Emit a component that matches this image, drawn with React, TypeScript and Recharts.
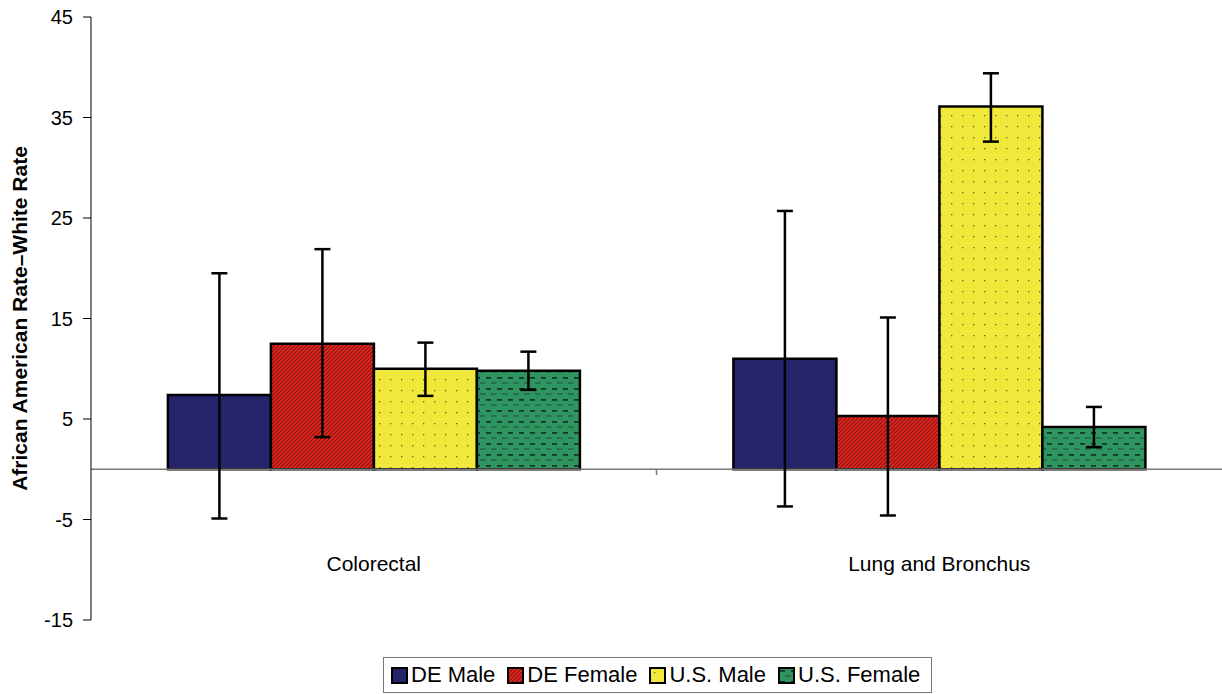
import React from "react";
import {
  BarChart,
  Bar,
  XAxis,
  YAxis,
  ErrorBar,
  ReferenceLine,
  Legend,
} from "recharts";

const categories = ["Colorectal", "Lung and Bronchus"];

const deMale = [7.4, 11.0];
const deFemale = [12.5, 5.3];
const usMale = [10.0, 36.1];
const usFemale = [9.8, 4.2];

// confidence limits [low, high]
const deMaleCI = [[-4.9, 19.5], [-3.7, 25.7]];
const deFemaleCI = [[3.2, 21.9], [-4.6, 15.1]];
const usMaleCI = [[7.3, 12.6], [32.6, 39.4]];
const usFemaleCI = [[7.9, 11.7], [2.2, 6.2]];

const yTicks = [-15, -5, 5, 15, 25, 35, 45];

const series = [
  { key: "deMale", name: "DE Male", values: deMale, ci: deMaleCI, fill: "#25246B" },
  { key: "deFemale", name: "DE Female", values: deFemale, ci: deFemaleCI, fill: "url(#hatchRed)" },
  { key: "usMale", name: "U.S. Male", values: usMale, ci: usMaleCI, fill: "url(#dotsYellow)" },
  { key: "usFemale", name: "U.S. Female", values: usFemale, ci: usFemaleCI, fill: "url(#dashGreen)" },
];

const data = categories.map((name, i) => {
  const row: any = { name };
  series.forEach((s) => {
    const v = s.values[i];
    row[s.key] = v;
    row[s.key + "Err"] = [v - s.ci[i][0], s.ci[i][1] - v];
  });
  return row;
});

const FONT = "'Liberation Sans', Arial, sans-serif";

const Patterns = () => (
  <defs>
    <pattern id="hatchRed" width="4" height="4" patternUnits="userSpaceOnUse">
      <rect width="4" height="4" fill="#E8261F" />
      <path d="M-1,1 l2,-2 M0,4 l4,-4 M3,5 l2,-2" stroke="#7A1410" strokeWidth="1.1" />
    </pattern>
    <pattern id="dotsYellow" width="11" height="11" patternUnits="userSpaceOnUse">
      <rect width="11" height="11" fill="#F0E83A" />
      <rect x="5" y="5" width="1.3" height="1.3" fill="#6A6530" />
    </pattern>
    <pattern id="dashGreen" width="11" height="11" patternUnits="userSpaceOnUse">
      <rect width="11" height="11" fill="#2E9460" />
      <rect x="2" y="3" width="5" height="1.8" fill="#123A22" />
      <rect x="7" y="8.5" width="4" height="1" fill="#1E4E33" />
      <rect x="0" y="8.5" width="1.5" height="1" fill="#1E4E33" />
    </pattern>
  </defs>
);

const CategoryTick = (props: any) => {
  const { x, y, payload, index } = props;
  const half = payload.offset || 0;
  return (
    <g>
      <text
        x={x}
        y={y - 57}
        textAnchor="middle"
        fontSize={21}
        fontFamily={FONT}
        fill="#000"
      >
        {payload.value}
      </text>
      {index === 0 && (
        <line x1={x + half} x2={x + half} y1={469} y2={475} stroke="#777" strokeWidth={1.5} />
      )}
    </g>
  );
};

const LegendBox = () => (
  <div
    style={{
      boxSizing: "border-box",
      height: 36,
      width: 549,
      border: "1px solid #777",
      display: "flex",
      alignItems: "center",
      paddingLeft: 7,
      fontFamily: FONT,
      fontSize: 22,
      color: "#000",
      whiteSpace: "nowrap",
    }}
  >
    {series.map((s) => (
      <div key={s.key} style={{ display: "flex", alignItems: "center", marginRight: 12 }}>
        <svg width={17} height={17} style={{ marginRight: 3 }}>
          <Patterns />
          <rect x={1} y={1} width={15} height={15} fill={s.fill} stroke="#000" strokeWidth={2} />
        </svg>
        <span>{s.name}</span>
      </div>
    ))}
  </div>
);

export default function App() {
  return (
    <div style={{ position: "absolute", left: 0, top: 0, background: "#fff" }}>
      <BarChart
        width={1222}
        height={694}
        data={data}
        margin={{ top: 17, right: 0, left: 0, bottom: 1 }}
        barCategoryGap="13.6%"
        barGap={0}
        style={{ fontFamily: FONT }}
      >
        <Patterns />
        <XAxis
          dataKey="name"
          height={37}
          axisLine={false}
          tickLine={false}
          tick={<CategoryTick />}
          interval={0}
        />
        <YAxis
          width={91}
          domain={[-15, 45]}
          ticks={yTicks}
          interval={0}
          tickSize={8}
          tickMargin={10}
          stroke="#000"
          tick={{ fontSize: 20, fill: "#000", fontFamily: FONT }}
          label={{
            value: "African American Rate–White Rate",
            angle: -90,
            position: "insideLeft",
            offset: 20,
            style: { textAnchor: "middle", fontWeight: "bold", fontSize: 21, fill: "#000", fontFamily: FONT },
          }}
        />
        <ReferenceLine y={0} stroke="#777" strokeWidth={1.5} />
        {series.map((s) => (
          <Bar
            key={s.key}
            dataKey={s.key}
            name={s.name}
            fill={s.fill}
            stroke="#000"
            strokeWidth={2.5}
            isAnimationActive={false}
          >
            <ErrorBar
              dataKey={s.key + "Err"}
              width={8}
              stroke="#000"
              strokeWidth={2.5}
              isAnimationActive={false}
            />
          </Bar>
        ))}
        <Legend
          verticalAlign="bottom"
          content={<LegendBox />}
          wrapperStyle={{ left: 383, width: 549 }}
        />
      </BarChart>
    </div>
  );
}
